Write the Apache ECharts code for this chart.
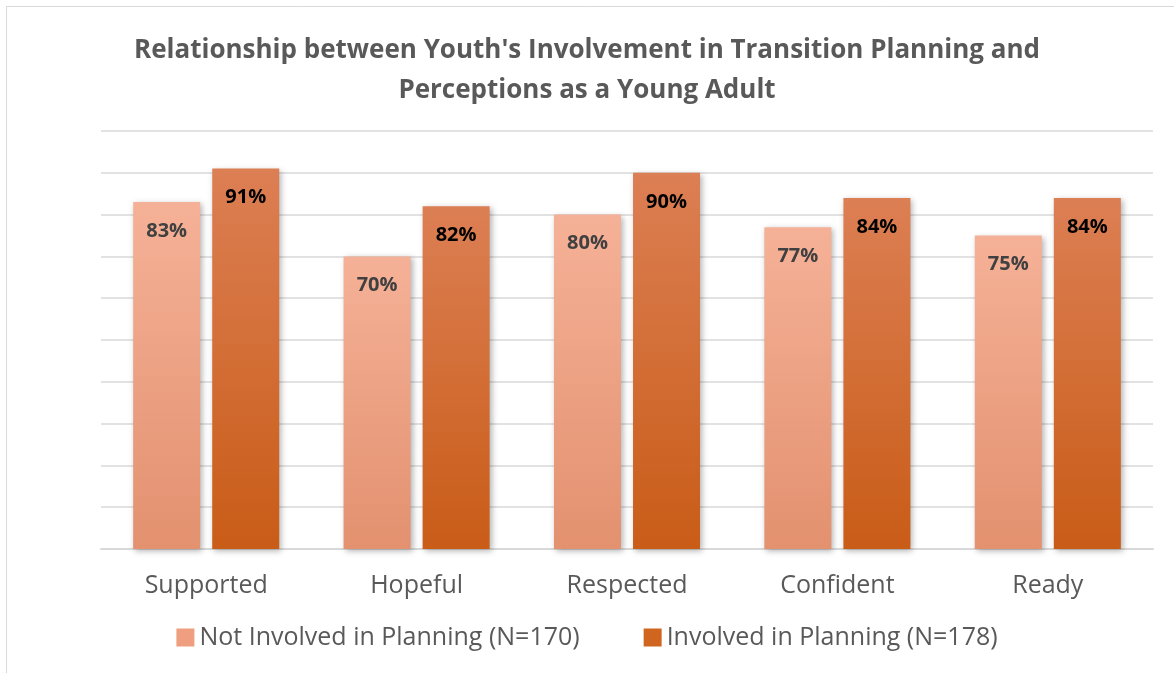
<!DOCTYPE html>
<html>
<head>
<meta charset="utf-8">
<script src="https://cdn.jsdelivr.net/npm/echarts@6/dist/echarts.min.js"></script>
<style>
  html, body { margin: 0; padding: 0; background: #fff; }
  #chart { width: 1174px; height: 673px; }
</style>
</head>
<body>
<div id="chart"></div>
<script>
// categories and values
const categories = ['Supported', 'Hopeful', 'Respected', 'Confident', 'Ready'];
const notInvolved = [83, 70, 80, 77, 75];
const involved = [91, 82, 90, 84, 84];
const seriesNames = ['Not Involved in Planning (N=170)', 'Involved in Planning (N=178)'];

const chart = echarts.init(document.getElementById('chart'));

// vertical gradient used on each bar
function grad(top, bottom) {
    return new echarts.graphic.LinearGradient(0, 0, 0, 1, [
        { offset: 0, color: top },
        { offset: 1, color: bottom }
    ]);
}

const option = {
    backgroundColor: '#fff',
    animation: false,
    title: {
        text: "Relationship between Youth's Involvement in Transition Planning and\nPerceptions as a Young Adult",
        left: 'center',
        top: 26,
        textStyle: {
            fontFamily: 'Open Sans',
            fontWeight: 'bold',
            fontSize: 26,
            lineHeight: 40,
            color: '#595959'
        }
    },
    graphic: [{
        type: 'rect',
        shape: { x: 6.5, y: 6.5, width: 1200, height: 700 },
        style: { fill: 'none', stroke: '#d9d9d9', lineWidth: 1 },
        silent: true
    }],
    legend: {
        bottom: 18,
        left: 'center',
        itemWidth: 18,
        itemHeight: 18,
        itemGap: 64,
        icon: 'rect',
        textStyle: {
            fontFamily: 'Open Sans',
            fontSize: 25,
            color: '#595959'
        },
        data: [
            { name: seriesNames[0], itemStyle: { color: '#ef9f7f' } },
            { name: seriesNames[1], itemStyle: { color: '#d0651f' } }
        ]
    },
    grid: {
        left: 101,
        right: 21,
        top: 131,
        bottom: 124
    },
    xAxis: {
        type: 'category',
        data: categories,
        axisLine: { lineStyle: { color: '#d9d9d9', width: 2 } },
        axisTick: { show: false },
        axisLabel: {
            fontFamily: 'Open Sans',
            fontSize: 25,
            color: '#595959',
            margin: 24
        }
    },
    yAxis: {
        type: 'value',
        min: 0,
        max: 100,
        interval: 10,
        axisLabel: { show: false },
        axisLine: { show: false },
        axisTick: { show: false },
        splitLine: { lineStyle: { color: '#d9d9d9', width: 1.5 } }
    },
    series: [
        {
            name: seriesNames[0],
            type: 'bar',
            data: notInvolved,
            barWidth: 67,
            barGap: '18%',
            itemStyle: {
                color: grad('#f5b197', '#e3916f'),
                shadowBlur: 6,
                shadowColor: 'rgba(0,0,0,0.3)',
                shadowOffsetX: 2,
                shadowOffsetY: 2
            },
            label: {
                show: true,
                position: 'insideTop',
                distance: 19,
                formatter: '{c}%',
                fontFamily: 'Open Sans',
                fontWeight: 'bold',
                fontSize: 20,
                color: '#404040'
            }
        },
        {
            name: seriesNames[1],
            type: 'bar',
            data: involved,
            barWidth: 67,
            itemStyle: {
                color: grad('#dc7f54', '#c95c17'),
                shadowBlur: 6,
                shadowColor: 'rgba(0,0,0,0.3)',
                shadowOffsetX: 2,
                shadowOffsetY: 2
            },
            label: {
                show: true,
                position: 'insideTop',
                distance: 19,
                formatter: '{c}%',
                fontFamily: 'Open Sans',
                fontWeight: 'bold',
                fontSize: 20,
                color: '#000'
            }
        }
    ]
};

option && chart.setOption(option);
</script>
</body>
</html>
